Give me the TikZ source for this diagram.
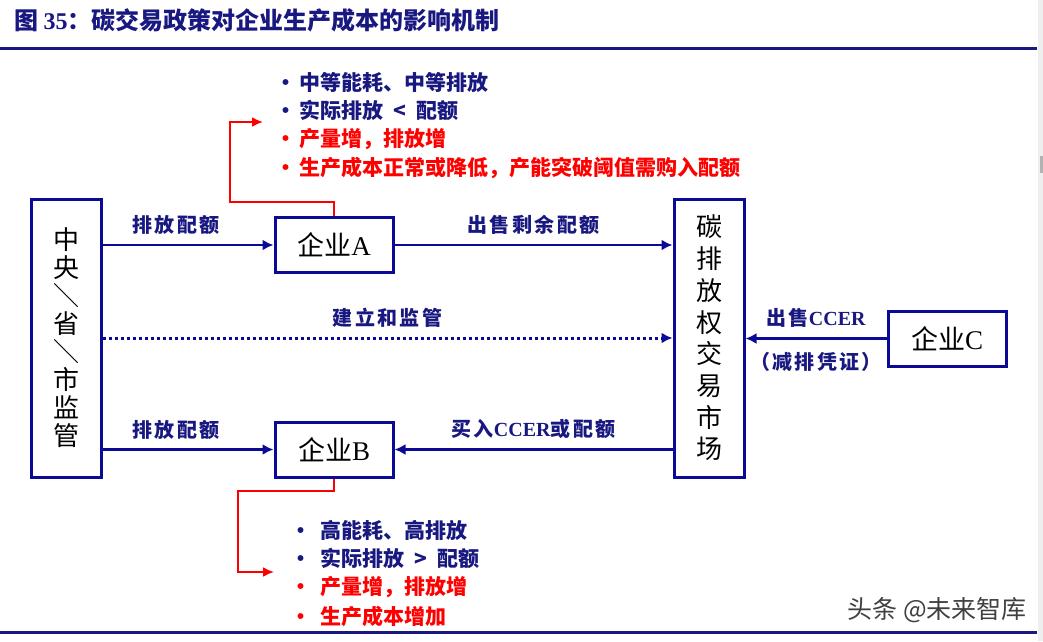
\documentclass[tikz,border=0pt]{standalone}
\usepackage{fontspec}
\setmainfont{Liberation Serif}
\newfontfamily\cjk{Noto Sans CJK SC}
\newfontfamily\cjklbl[LetterSpace=12]{Noto Sans CJK SC}
\newfontfamily\lat{Liberation Serif}
\usetikzlibrary{arrows.meta,positioning,calc}
\definecolor{navy}{RGB}{24,24,128}
\definecolor{boxblue}{RGB}{10,10,150}
\definecolor{pale}{RGB}{238,238,238}
\tikzset{
box/.style = {draw=boxblue, line width=3pt, fill=white, rectangle, align=center, inner sep=0pt, font=\cjk\fontsize{27}{28}\selectfont},
vbox/.style = {box, minimum width=70pt, minimum height=278pt},
ebox/.style = {box, minimum width=118pt, minimum height=55pt},
link/.style = {draw=boxblue, line width=2.8pt, -{Latex[length=11pt,width=11pt]}},
dotlink/.style = {link, line width=3pt, dash pattern=on 3pt off 3pt},
redlink/.style = {draw=red, line width=2pt, -{Latex[length=11pt,width=10pt]}},
lbl/.style = {text=navy, inner sep=0pt, font=\cjklbl\bfseries\fontsize{20}{22}\selectfont},
item/.style = {anchor=west, inner sep=0pt, font=\cjk\bfseries\fontsize{21}{23}\selectfont}
}

\begin{document}
\begin{tikzpicture}[x=1pt, y=-1pt]
  \useasboundingbox (0,0) rectangle (1043,641);
  \fill[pale] (1038,0) rectangle (1043,641);
  \fill[black!30] (1040,156) rectangle (1043,173);

  % title and rules
  \node[anchor=west, inner sep=0pt, text=navy, font=\cjk\bfseries\fontsize{24}{26}\selectfont] (title) at (14,20) {图 {\lat\bfseries 35}：碳交易政策对企业生产成本的影响机制};
  \draw[navy, line width=3pt] (0,48) -- (1037,48);
  \draw[navy, line width=3pt] (0,632) -- (1037,632);

  % boxes
  \node[vbox, font=\cjk\fontsize{26}{28}\selectfont] (gov) at (66,338) {中\\央\\＼\\省\\＼\\市\\监\\管};
  \node[vbox, font=\cjk\fontsize{26}{31.7}\selectfont] (market) at (709,338) {碳\\排\\放\\权\\交\\易\\市\\场};
  \node[ebox] (entA) at (334,245) {企业{\lat A}};
  \node[ebox] (entB) at (334,449.5) {企业{\lat B}};
  \node[ebox] (entC) at (947,338.5) {企业{\lat C}};

  % flows
  \draw[link] (gov.east |- entA) -- node[lbl, above=9pt, pos=0.43] {排放配额} (entA.west);
  \draw[link] (entA.east) -- node[lbl, above=9pt] {出售剩余配额} (market.west |- entA);
  \draw[dotlink] (gov.east) -- node[lbl, above=9pt] {建立和监管} (market.west);
  \draw[link] (gov.east |- entB) -- node[lbl, above=9pt, pos=0.43] {排放配额} (entB.west);
  \draw[link] (market.west |- entB) -- node[lbl, above=9pt] {买入{\lat\bfseries CCER}或配额} (entB.east);
  \draw[link] (entC.west) -- node[lbl, above=10pt] {出售{\lat\bfseries CCER}}
    node[lbl, below=12pt] {（减排凭证）} (market.east |- entC);

  % effects on the firms
  \foreach \txt/\col [count=\i] in {中等能耗、中等排放/navy, 实际排放\hspace{0.5em}<\hspace{0.5em}配额/navy, 产量增，排放增/red, 生产成本正常或降低，产能突破阈值需购入配额/red}
    \node[item, text=\col] (a\i) at (275,{82+28.5*(\i-1)}) {\makebox[24pt][l]{•}\txt};
  \foreach \txt/\col [count=\i] in {高能耗、高排放/navy, 实际排放\hspace{0.5em}>\hspace{0.5em}配额/navy, 产量增，排放增/red, 生产成本增加/red}
    \node[item, text=\col] (b\i) at (290,{530+28.7*(\i-1)}) {\makebox[30pt][l]{•}\txt};
  \coordinate (aTip) at (263,122);
  \coordinate (bTip) at (274,572);
  \draw[redlink] (entA.north) |- (230,202) |- (aTip);
  \draw[redlink] (entB.south) |- (238,491) |- (bTip);

  \node[anchor=east, inner sep=0pt, text=black!75, font=\cjk\fontsize{25}{26}\selectfont] (mark) at (1027,610) {头条 @未来智库};
\end{tikzpicture}
\end{document}
